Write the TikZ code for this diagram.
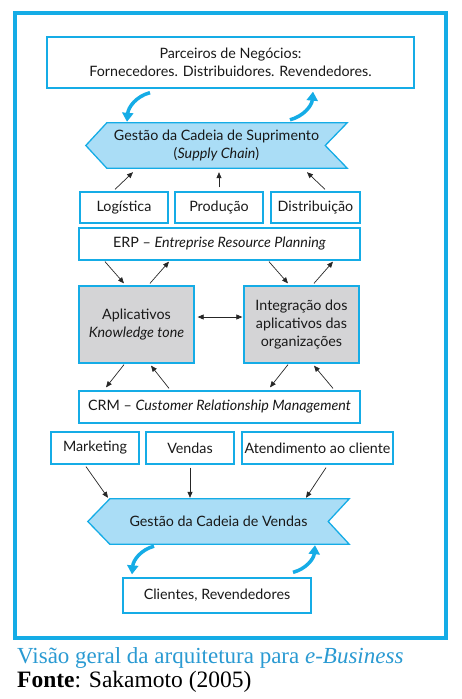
\documentclass[tikz,border=0pt]{standalone}
\usepackage{fontspec}
\setmainfont{Lato}
\newfontfamily\capfont{Liberation Serif}
\usetikzlibrary{arrows.meta,calc}
\definecolor{cyanb}{HTML}{15ACE6}
\definecolor{cyanf}{HTML}{AADDF6}
\definecolor{grayf}{HTML}{D4D4D6}
\definecolor{capc}{HTML}{2A9AD2}
\tikzset{
  box/.style={draw=cyanb, line width=1.3pt, fill=white, inner sep=0pt, align=center, text=black!90, font=\fontsize{14.3}{18}\selectfont},
  gbox/.style={box, fill=grayf},
  arr/.style={-{Triangle[length=6pt,width=5pt]}, line width=0.7pt, black!85},
  darr/.style={{Triangle[length=6pt,width=5pt]}-{Triangle[length=6pt,width=5pt]}, line width=0.7pt, black!85},
  carr/.style={-{Triangle[length=9pt,width=11pt]}, line width=3.5pt, cyanb},
  chain/.style={draw=cyanb, line width=1.3pt, fill=cyanf},
  ctext/.style={inner sep=0pt, align=center, text=black!90, font=\fontsize{14.3}{18}\selectfont}
}
\begin{document}
\begin{tikzpicture}[x=1pt,y=-1pt]
\useasboundingbox (0,0) rectangle (461,699);
\draw[cyanb, line width=4pt] (14.5,12.5) rectangle (445.5,637.5);

\node[box, minimum width=367pt, minimum height=51pt] (par) at (230.5,62.5) {Parceiros de Negócios:\\Fornecedores. Distribuidores. Revendedores.};

\node[ctext, minimum width=261pt, minimum height=45pt] (sc) at (216.5,145.5) {};
\draw[chain] ($(sc.north west)+(21,0)$) -- (sc.north east) -- ($(sc.east)+(-22,0)$) -- (sc.south east) -- ($(sc.south west)+(21,0)$) -- (sc.west) -- cycle;
\node[ctext] at (sc.center) {Gestão da Cadeia de Suprimento\\(\textit{Supply Chain})};

\node[box, minimum width=88pt, minimum height=31pt] (log) at (124,207.5) {Logística};
\node[box, minimum width=88pt, minimum height=31pt] (prod) at (219,207.5) {Produção};
\node[box, minimum width=89pt, minimum height=31pt] (dist) at (315.5,207.5) {Distribuição};

\node[box, minimum width=281pt, minimum height=32pt] (erp) at (219.5,244) {ERP -- \textit{Entreprise Resource Planning}};

\node[gbox, minimum width=115pt, minimum height=77pt] (app) at (136.5,324.5) {Aplicativos\\\textit{Knowledge tone}};
\node[gbox, minimum width=115pt, minimum height=77pt] (int) at (301.5,324.5) {Integração dos\\aplicativos das\\organizações};

\node[box, minimum width=281pt, minimum height=32pt] (crm) at (219.5,407) {CRM -- \textit{Customer Relationship Management}};

\node[box, minimum width=88pt, minimum height=32pt] (mkt) at (95,448) {Marketing};
\node[box, minimum width=88pt, minimum height=32pt] (ven) at (190,448) {Vendas};
\node[box, minimum width=151pt, minimum height=32pt] (ate) at (317.5,448) {Atendimento ao cliente};

\node[ctext, minimum width=261pt, minimum height=45pt] (vc) at (218.5,521.5) {};
\draw[chain] ($(vc.north west)+(22,0)$) -- (vc.north east) -- ($(vc.east)+(-21,0)$) -- (vc.south east) -- ($(vc.south west)+(22,0)$) -- (vc.west) -- cycle;
\node[ctext] at (vc.center) {Gestão da Cadeia de Vendas};

\node[box, minimum width=188pt, minimum height=35pt] (cli) at (217,595.5) {Clientes, Revendedores};

% cyan curved arrows
\draw[carr] ($(par.south)+(-80.5,4)$) to[out=195,in=85] ($(sc.north)+(-89.5,-1)$);
\draw[carr] ($(sc.north)+(73.5,-3)$) to[out=15,in=-95] ($(par.south)+(82.5,3)$);
\draw[carr] ($(vc.south)+(-64.5,2)$) to[out=195,in=85] ($(cli.north)+(-85,-3)$);
\draw[carr] ($(cli.north)+(76,-5)$) to[out=15,in=-95] ($(vc.south)+(96.5,1)$);

% thin arrows
\draw[arr] ($(log.north)+(-9,-2)$) -- ($(sc.south)+(-83.5,4)$);
\draw[arr] ($(prod.north)+(0,-4)$) -- ($(sc.south)+(2.5,4)$);
\draw[arr] ($(dist.north)+(9.5,-2)$) -- ($(sc.south)+(90.5,4)$);

\draw[arr] ($(erp.south)+(-114.5,1)$) -- ($(app.north)+(-12.5,-2)$);
\draw[arr] ($(app.north)+(13.5,-2)$) -- ($(erp.south)+(-50.5,1)$);
\draw[arr] ($(erp.south)+(49.5,1)$) -- ($(int.north)+(-13.5,-2)$);
\draw[arr] ($(int.north)+(12.5,-2)$) -- ($(erp.south)+(113.5,1)$);

\draw[darr] ($(app.east)+(3,-7.5)$) -- ($(int.west)+(-1,-7.5)$);

\draw[arr] ($(app.south)+(-12.5,1)$) -- ($(crm.north)+(-113.5,-3)$);
\draw[arr] ($(crm.north)+(-50.5,-2)$) -- ($(app.south)+(14.5,2)$);
\draw[arr] ($(int.south)+(-13.5,1)$) -- ($(crm.north)+(50.5,-3)$);
\draw[arr] ($(crm.north)+(113.5,-2)$) -- ($(int.south)+(12.5,2)$);

\draw[arr] ($(mkt.south)+(-9,2)$) -- ($(vc.north)+(-110.5,-1)$);
\draw[arr] ($(ven.south)+(0,3)$) -- ($(vc.north)+(-28.5,-1)$);
\draw[arr] ($(ate.south)+(8.5,3)$) -- ($(vc.north)+(87.5,-1)$);

% caption
\node[anchor=base west, inner sep=0pt, text=capc, font=\capfont\fontsize{23}{24}\selectfont] (cap) at (17,663) {Visão geral da arquitetura para \textit{e-Business}};
\node[anchor=base west, inner sep=0pt, font=\capfont\fontsize{23.5}{24}\selectfont] (src) at (17,687) {\textbf{Fonte}: Sakamoto (2005)};
\end{tikzpicture}
\end{document}
